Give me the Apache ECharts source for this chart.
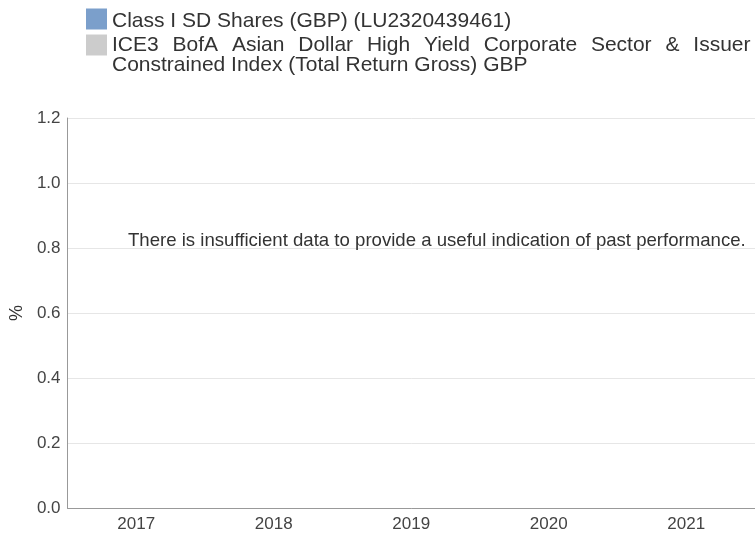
<!DOCTYPE html>
<html>
<head>
<meta charset="utf-8">
<script src="https://cdn.jsdelivr.net/npm/echarts@6/dist/echarts.min.js"></script>
<style>html,body{margin:0;padding:0;background:#fff;}#c{width:755px;height:533px;}</style>
</head>
<body>
<div id="c"></div>
<script>
var categories = ['2017', '2018', '2019', '2020', '2021'];
var fundName = 'Class I SD Shares (GBP) (LU2320439461)';
var indexName = 'ICE3 BofA Asian Dollar High Yield Corporate Sector & Issuer Constrained Index (Total Return Gross) GBP';
var indexFirstLineWords = ['ICE3', 'BofA', 'Asian', 'Dollar', 'High', 'Yield', 'Corporate', 'Sector', '&', 'Issuer'];
var indexSecondLine = 'Constrained Index (Total Return Gross) GBP';
var fundValues = [null, null, null, null, null];
var indexValues = [null, null, null, null, null];
var noteText = 'There is insufficient data to provide a useful indication of past performance.';

var FONT = '"Liberation Sans", Arial, Helvetica, sans-serif';
var chart = echarts.init(document.getElementById('c'), null, {renderer: 'canvas'});

function justifiedFirstLine() {
  return indexFirstLineWords.map(function (w) { return '{w|' + w + '}'; }).join('{s| }');
}

chart.setOption({
  animation: false,
  textStyle: {fontFamily: FONT},
  legend: {
    orient: 'vertical',
    left: 86,
    top: 6,
    padding: 0,
    itemWidth: 21,
    itemHeight: 21,
    itemGap: -20,
    icon: 'rect',
    textStyle: {
      fontSize: 21, color: '#333', fontFamily: FONT, lineHeight: 20,
      rich: {
        p: {fontSize: 21, lineHeight: 20, fontFamily: FONT, color: '#333', padding: [5, 0, 0, 0]},
        e: {fontSize: 21, lineHeight: 20, fontFamily: FONT, color: '#333', padding: [5, 0, 0, 0]},
        w: {fontSize: 21, lineHeight: 20, fontFamily: FONT, color: '#333'},
        s: {fontSize: 21, lineHeight: 20, fontFamily: FONT, color: '#333', padding: [0, 8, 0, 0]},
        t: {fontSize: 21, lineHeight: 20, fontFamily: FONT, color: '#333'}
      }
    },
    formatter: function (name) {
      if (name === indexName) {
        return '{e| }\n' + justifiedFirstLine() + '\n{t|' + indexSecondLine + '}';
      }
      return '{p|' + name + '}';
    },
    data: [
      {name: fundName},
      {name: indexName}
    ]
  },
  grid: {left: 67, right: -2, top: 118, bottom: 22, containLabel: false},
  xAxis: {
    type: 'category',
    data: categories,
    axisLine: {show: true, lineStyle: {color: '#999', width: 1}},
    axisTick: {show: false},
    axisLabel: {fontSize: 17, color: '#444', margin: 8, fontFamily: FONT},
    splitLine: {show: false}
  },
  yAxis: {
    type: 'value',
    min: 0,
    max: 1.2,
    interval: 0.2,
    name: '%',
    nameLocation: 'middle',
    nameGap: 30,
    nameRotate: 90,
    nameTextStyle: {fontSize: 18, color: '#333', fontFamily: FONT},
    axisLine: {show: true, lineStyle: {color: '#999', width: 1}},
    axisTick: {show: false},
    axisLabel: {fontSize: 17, color: '#444', margin: 7, fontFamily: FONT,
      formatter: function (v) { return v.toFixed(1); }},
    splitLine: {show: true, lineStyle: {color: '#e6e6e6', width: 1}}
  },
  series: [
    {name: fundName, type: 'bar', data: fundValues, itemStyle: {color: '#7b9fcb'}},
    {name: indexName, type: 'bar', data: indexValues, itemStyle: {color: '#cccccc'}}
  ],
  graphic: [{
    type: 'text',
    left: 128,
    top: 231,
    z: 100,
    style: {text: noteText, fontSize: 18.6, fill: '#333', fontFamily: FONT}
  }]
});
</script>
</body>
</html>
